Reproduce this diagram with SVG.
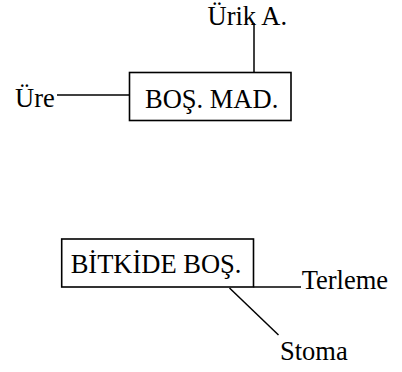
<svg xmlns="http://www.w3.org/2000/svg" width="402" height="372" viewBox="0 0 402 372">
  <style>
    .box { fill: #ffffff; stroke: #000000; stroke-width: 1.6; }
    .link { fill: none; stroke: #000000; stroke-width: 1.5; }
    text { font-family: "Liberation Serif", "Times New Roman", serif; font-size: 26.5px; fill: #000000; }
  </style>
  <rect width="402" height="372" fill="#ffffff"/>

  <!-- connectors -->
  <g id="connectors">
    <line class="link" x1="57" y1="95" x2="129.5" y2="95"/>
    <line class="link" x1="254" y1="23" x2="254" y2="72.5"/>
    <line class="link" x1="253.5" y1="287" x2="301" y2="287"/>
    <line class="link" x1="229.5" y1="288" x2="278.5" y2="335"/>
  </g>

  <!-- excretory substances (animals) -->
  <g id="bos-mad">
    <rect class="box" x="129.5" y="72.5" width="161.5" height="48"/>
    <text x="145" y="108">BOŞ. MAD.</text>
  </g>
  <g id="ure">
    <text x="15" y="107">Üre</text>
  </g>
  <g id="urik">
    <text x="207.5" y="25">Ürik A.</text>
  </g>

  <!-- excretion in plants -->
  <g id="bitkide-bos">
    <rect class="box" x="61.7" y="239" width="191.8" height="48"/>
    <text x="70.7" y="273">BİTKİDE BOŞ.</text>
  </g>
  <g id="terleme">
    <text x="301.7" y="288.5">Terleme</text>
  </g>
  <g id="stoma">
    <text x="280" y="360">Stoma</text>
  </g>
</svg>
